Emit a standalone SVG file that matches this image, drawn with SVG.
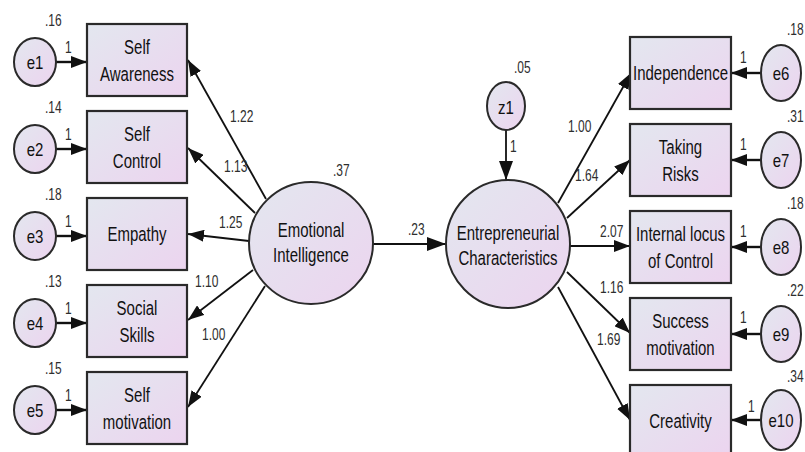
<svg xmlns="http://www.w3.org/2000/svg" width="805" height="452" viewBox="0 0 805 452">
  <defs>
    <linearGradient id="fillG" x1="0" y1="0" x2="1" y2="1">
      <stop offset="0" stop-color="#e3e7ef"/>
      <stop offset="1" stop-color="#ecd4ef"/>
    </linearGradient>
    <marker id="ah" viewBox="0 0 16 12" refX="16" refY="6" markerWidth="16" markerHeight="12" orient="auto" markerUnits="userSpaceOnUse">
      <path d="M0,0 L16,6 L0,12 z" fill="#111"/>
    </marker>
    <marker id="ahBig" viewBox="0 0 19 14" refX="19" refY="7" markerWidth="19" markerHeight="14" orient="auto" markerUnits="userSpaceOnUse">
      <path d="M0,0 L19,7 L0,14 z" fill="#111"/>
    </marker>
  </defs>
  <style>
    .box{fill:url(#fillG);stroke:#2a2a2a;stroke-width:2.2}
    .ell{fill:url(#fillG);stroke:#2a2a2a;stroke-width:2}
    .lbl{font-family:"Liberation Sans",Arial,sans-serif;font-size:15px;fill:#111;text-anchor:middle}
    .elbl{font-family:"Liberation Sans",Arial,sans-serif;font-size:15px;fill:#111;text-anchor:middle}
    .num{font-family:"Liberation Sans",Arial,sans-serif;font-size:12px;fill:#2e2e2e}
    .conn line{stroke:#111;stroke-width:1.8;marker-end:url(#ah)}
    .conn line.err{stroke-width:2.4}
    .conn line.big{marker-end:url(#ahBig)}
  </style>

  <rect width="805" height="452" fill="#ffffff"/>

  <!-- connectors -->
  <g id="connectors" class="conn">
    <!-- error terms to left indicators -->
    <line class="err" x1="56" y1="62" x2="87" y2="62"/>
    <line class="err" x1="56" y1="149" x2="87" y2="149"/>
    <line class="err" x1="56" y1="236" x2="87" y2="236"/>
    <line class="err" x1="56" y1="323" x2="87" y2="323"/>
    <line class="err" x1="56" y1="410" x2="87" y2="410"/>
    <!-- Emotional Intelligence loadings -->
    <line x1="266" y1="199" x2="188" y2="60"/>
    <line x1="255" y1="213" x2="188" y2="148"/>
    <line x1="249" y1="241" x2="188" y2="234"/>
    <line x1="253" y1="270" x2="188" y2="320"/>
    <line x1="265" y1="286" x2="188" y2="407"/>
    <!-- structural path -->
    <line class="big" x1="373" y1="244" x2="446" y2="244"/>
    <!-- disturbance -->
    <line class="big" x1="506" y1="130" x2="506" y2="180"/>
    <!-- Entrepreneurial Characteristics loadings -->
    <line x1="558" y1="203" x2="631" y2="73"/>
    <line x1="567" y1="218" x2="630" y2="160"/>
    <line x1="570" y1="246" x2="630" y2="246"/>
    <line x1="567" y1="272" x2="630" y2="333"/>
    <line x1="558" y1="287" x2="630" y2="420"/>
    <!-- error terms to right indicators -->
    <line class="err" x1="761" y1="73" x2="731" y2="73"/>
    <line class="err" x1="761" y1="160" x2="731" y2="160"/>
    <line class="err" x1="761" y1="247" x2="731" y2="247"/>
    <line class="err" x1="761" y1="334" x2="731" y2="334"/>
    <line class="err" x1="761" y1="420" x2="731" y2="420"/>
  </g>

  <!-- path coefficients -->
  <g id="coefficients">
    <text class="num" transform="translate(230 122) scale(1 1.4)">1.22</text>
    <text class="num" transform="translate(224 172) scale(1 1.4)">1.13</text>
    <text class="num" transform="translate(219 228) scale(1 1.4)">1.25</text>
    <text class="num" transform="translate(195 287) scale(1 1.4)">1.10</text>
    <text class="num" transform="translate(202 340) scale(1 1.4)">1.00</text>
    <text class="num" transform="translate(408 235) scale(1 1.4)">.23</text>
    <text class="num" transform="translate(510 152) scale(1 1.4)">1</text>
    <text class="num" transform="translate(568 132) scale(1 1.4)">1.00</text>
    <text class="num" transform="translate(575 181) scale(1 1.4)">1.64</text>
    <text class="num" transform="translate(600 237) scale(1 1.4)">2.07</text>
    <text class="num" transform="translate(600 293) scale(1 1.4)">1.16</text>
    <text class="num" transform="translate(597 345) scale(1 1.4)">1.69</text>
    <!-- fixed error loadings -->
    <text class="num" transform="translate(65 53) scale(1 1.4)">1</text>
    <text class="num" transform="translate(65 140) scale(1 1.4)">1</text>
    <text class="num" transform="translate(65 227) scale(1 1.4)">1</text>
    <text class="num" transform="translate(65 314) scale(1 1.4)">1</text>
    <text class="num" transform="translate(65 401) scale(1 1.4)">1</text>
    <text class="num" transform="translate(740 63) scale(1 1.4)">1</text>
    <text class="num" transform="translate(740 150) scale(1 1.4)">1</text>
    <text class="num" transform="translate(740 237) scale(1 1.4)">1</text>
    <text class="num" transform="translate(740 323) scale(1 1.4)">1</text>
    <text class="num" transform="translate(748 412) scale(1 1.4)">1</text>
  </g>

  <!-- left error terms -->
  <g id="e1"><ellipse class="ell" cx="35" cy="62" rx="21" ry="24"/><text class="elbl" transform="translate(35 68.5) scale(1 1.2)">e1</text><text class="num" transform="translate(45 26) scale(1 1.4)">.16</text></g>
  <g id="e2"><ellipse class="ell" cx="35" cy="149" rx="21" ry="24"/><text class="elbl" transform="translate(35 155.5) scale(1 1.2)">e2</text><text class="num" transform="translate(45 113) scale(1 1.4)">.14</text></g>
  <g id="e3"><ellipse class="ell" cx="35" cy="236" rx="21" ry="24"/><text class="elbl" transform="translate(35 242.5) scale(1 1.2)">e3</text><text class="num" transform="translate(45 200) scale(1 1.4)">.18</text></g>
  <g id="e4"><ellipse class="ell" cx="35" cy="323" rx="21" ry="24"/><text class="elbl" transform="translate(35 329.5) scale(1 1.2)">e4</text><text class="num" transform="translate(45 287) scale(1 1.4)">.13</text></g>
  <g id="e5"><ellipse class="ell" cx="35" cy="410" rx="21" ry="24"/><text class="elbl" transform="translate(35 416.5) scale(1 1.2)">e5</text><text class="num" transform="translate(45 374) scale(1 1.4)">.15</text></g>

  <!-- left indicators -->
  <g id="self-awareness"><rect class="box" x="87" y="24" width="100" height="72"/><text class="lbl" transform="translate(137 54) scale(1 1.35)">Self</text><text class="lbl" transform="translate(137 81) scale(1 1.35)">Awareness</text></g>
  <g id="self-control"><rect class="box" x="87" y="111" width="100" height="72"/><text class="lbl" transform="translate(137 141) scale(1 1.35)">Self</text><text class="lbl" transform="translate(137 168) scale(1 1.35)">Control</text></g>
  <g id="empathy"><rect class="box" x="87" y="198" width="100" height="72"/><text class="lbl" transform="translate(137 241) scale(1 1.35)">Empathy</text></g>
  <g id="social-skills"><rect class="box" x="87" y="285" width="100" height="72"/><text class="lbl" transform="translate(137 315) scale(1 1.35)">Social</text><text class="lbl" transform="translate(137 342) scale(1 1.35)">Skills</text></g>
  <g id="self-motivation"><rect class="box" x="87" y="372" width="100" height="72"/><text class="lbl" transform="translate(137 402) scale(1 1.35)">Self</text><text class="lbl" transform="translate(137 429) scale(1 1.35)">motivation</text></g>

  <!-- latent variables -->
  <g id="emotional-intelligence"><ellipse class="ell" cx="311" cy="243" rx="62" ry="61"/><text class="lbl" transform="translate(311 237) scale(1 1.35)">Emotional</text><text class="lbl" transform="translate(311 262) scale(1 1.35)">Intelligence</text><text class="num" transform="translate(333 176) scale(1 1.4)">.37</text></g>
  <g id="z1"><ellipse class="ell" cx="506" cy="106" rx="19" ry="24"/><text class="elbl" transform="translate(506 114) scale(1 1.2)">z1</text><text class="num" transform="translate(514 73) scale(1 1.4)">.05</text></g>
  <g id="entrepreneurial-characteristics"><ellipse class="ell" cx="508" cy="244" rx="62" ry="64"/><text class="lbl" transform="translate(508 240) scale(1 1.35)">Entrepreneurial</text><text class="lbl" transform="translate(508 265) scale(1 1.35)">Characteristics</text></g>

  <!-- right indicators -->
  <g id="independence"><rect class="box" x="630" y="37" width="101" height="72"/><text class="lbl" transform="translate(680.5 80) scale(1 1.35)">Independence</text></g>
  <g id="taking-risks"><rect class="box" x="630" y="124" width="101" height="72"/><text class="lbl" transform="translate(680.5 154) scale(1 1.35)">Taking</text><text class="lbl" transform="translate(680.5 181) scale(1 1.35)">Risks</text></g>
  <g id="internal-locus"><rect class="box" x="630" y="211" width="101" height="72"/><text class="lbl" transform="translate(680.5 241) scale(1 1.35)">Internal locus</text><text class="lbl" transform="translate(680.5 268) scale(1 1.35)">of Control</text></g>
  <g id="success-motivation"><rect class="box" x="630" y="298" width="101" height="72"/><text class="lbl" transform="translate(680.5 328) scale(1 1.35)">Success</text><text class="lbl" transform="translate(680.5 355) scale(1 1.35)">motivation</text></g>
  <g id="creativity"><rect class="box" x="630" y="385" width="101" height="72"/><text class="lbl" transform="translate(680.5 428) scale(1 1.35)">Creativity</text></g>

  <!-- right error terms -->
  <g id="e6"><ellipse class="ell" cx="781" cy="73" rx="20" ry="28"/><text class="elbl" transform="translate(781 79.5) scale(1 1.2)">e6</text><text class="num" transform="translate(787 35) scale(1 1.4)">.18</text></g>
  <g id="e7"><ellipse class="ell" cx="781" cy="160" rx="20" ry="28"/><text class="elbl" transform="translate(781 166.5) scale(1 1.2)">e7</text><text class="num" transform="translate(787 122) scale(1 1.4)">.31</text></g>
  <g id="e8"><ellipse class="ell" cx="781" cy="247" rx="20" ry="28"/><text class="elbl" transform="translate(781 253.5) scale(1 1.2)">e8</text><text class="num" transform="translate(787 209) scale(1 1.4)">.18</text></g>
  <g id="e9"><ellipse class="ell" cx="781" cy="334" rx="20" ry="28"/><text class="elbl" transform="translate(781 340.5) scale(1 1.2)">e9</text><text class="num" transform="translate(787 296) scale(1 1.4)">.22</text></g>
  <g id="e10"><ellipse class="ell" cx="781" cy="420" rx="20" ry="30"/><text class="elbl" transform="translate(781 426.5) scale(1 1.2)">e10</text><text class="num" transform="translate(787 382) scale(1 1.4)">.34</text></g>
</svg>
